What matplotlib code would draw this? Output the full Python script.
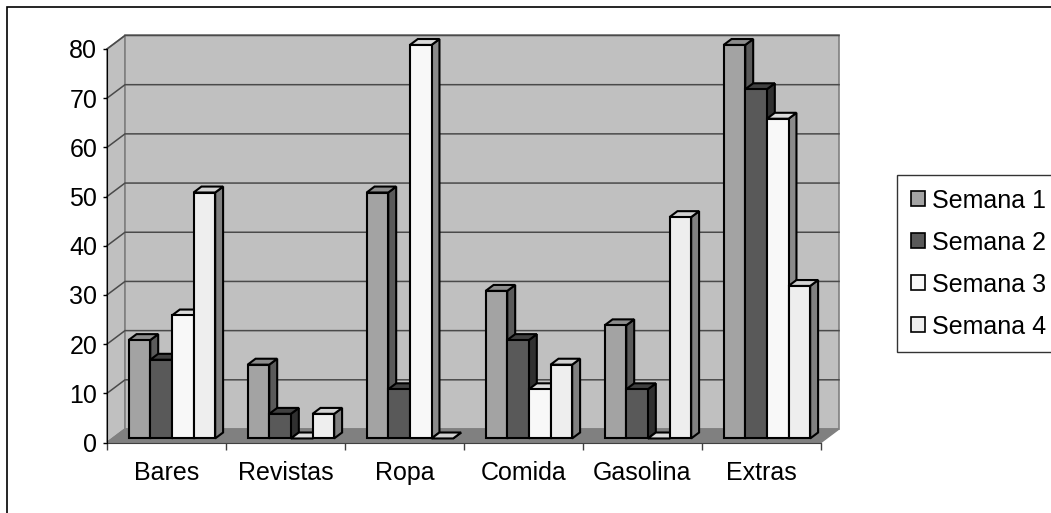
import matplotlib.pyplot as plt
from matplotlib.patches import Polygon, Rectangle, Patch

plt.rcParams["font.family"] = ["Liberation Sans", "DejaVu Sans"]

categories = ["Bares", "Revistas", "Ropa", "Comida", "Gasolina", "Extras"]
series_names = ["Semana 1", "Semana 2", "Semana 3", "Semana 4"]
semana1 = [20, 15, 50, 30, 23, 80]
semana2 = [16, 5, 10, 20, 10, 71]
semana3 = [25, 0, 80, 10, 0, 65]
semana4 = [50, 5, 0, 15, 45, 31]
y_ticks = [0, 10, 20, 30, 40, 50, 60, 70, 80]

# face colours per series: front, top, side
front_colors = ["#a3a3a3", "#595959", "#f8f8f8", "#eeeeee"]
top_colors = ["#8c8c8c", "#404040", "#dcdcdc", "#d2d2d2"]
side_colors = ["#5a5a5a", "#303030", "#8a8a8a", "#808080"]

W, H = 1051, 513
fig = plt.figure(figsize=(W / 100, H / 100), dpi=100)

# front plane of the 3d box, in pixels
x_left, x_right = 107, 821
y_zero, y_top = 442.5, 49
ax = fig.add_axes([x_left / W, 1 - y_zero / H,
                   (x_right - x_left) / W, (y_zero - y_top) / H])
n_cat = len(categories)
ymax = 80
ax.set_xlim(0, n_cat)
ax.set_ylim(0, ymax)

# depth offset of the back wall, expressed in data units
px_x = (x_right - x_left) / n_cat
px_y = (y_zero - y_top) / ymax
dx = 18 / px_x
dy = 13.5 / px_y

wall = "#c0c0c0"
edge_gray = "#808080"


def poly(pts, fc, ec, lw, z):
    ax.add_patch(Polygon(pts, closed=True, facecolor=fc, edgecolor=ec,
                         linewidth=lw, zorder=z, clip_on=False,
                         joinstyle="miter"))


# side wall, back wall and floor
poly([(0, 0), (0, ymax), (dx, ymax + dy), (dx, dy)], wall, edge_gray, 1.2, 1)
poly([(dx, dy), (n_cat + dx, dy), (n_cat + dx, ymax + dy), (dx, ymax + dy)],
     wall, edge_gray, 1.2, 1)
poly([(0, 0), (n_cat, 0), (n_cat + dx, dy), (dx, dy)], "#808080", "#808080", 1, 2)

for v in y_ticks[1:]:
    ax.plot([0, dx, n_cat + dx], [v, v + dy, v + dy], color="#4a4a4a",
            lw=1.1, zorder=1.5, clip_on=False, solid_joinstyle="miter")

# bars
all_series = [semana1, semana2, semana3, semana4]
n_ser = len(all_series)
bw = 1 / (n_ser + 1.5)
front_depth = 0.3
bar_depth = 0.44
z = 3
for i in range(n_cat):
    for j, vals in enumerate(all_series):
        v = vals[i]
        x0 = i + 0.75 * bw + j * bw + front_depth * dx
        y0 = front_depth * dy
        ox, oy = bar_depth * dx, bar_depth * dy
        poly([(x0 + bw, y0), (x0 + bw + ox, y0 + oy),
              (x0 + bw + ox, y0 + v + oy), (x0 + bw, y0 + v)],
             side_colors[j], "black", 1.5, z)
        poly([(x0, y0 + v), (x0 + bw, y0 + v), (x0 + bw + ox, y0 + v + oy),
              (x0 + ox, y0 + v + oy)], top_colors[j], "black", 1.5, z + 0.1)
        if v > 0:
            poly([(x0, y0), (x0 + bw, y0), (x0 + bw, y0 + v), (x0, y0 + v)],
                 front_colors[j], "black", 1.5, z + 0.2)
        z += 1

for s in ["top", "right"]:
    ax.spines[s].set_visible(False)
ax.spines["left"].set_color("black")
ax.spines["bottom"].set_color("#404040")
ax.spines["left"].set_zorder(50)
ax.spines["bottom"].set_zorder(2.5)
ax.patch.set_visible(False)

ax.set_yticks(y_ticks)
ax.tick_params(axis="y", direction="out", length=3, width=1, pad=4,
               labelsize=18, colors="black")
ax.set_xticks(range(n_cat + 1))
ax.set_xticklabels([])
ax.tick_params(axis="x", which="major", direction="out", length=5,
               width=1, color="#404040")
ax.set_xticks([i + 0.5 for i in range(n_cat)], minor=True)
ax.set_xticklabels(categories, minor=True)
ax.tick_params(axis="x", which="minor", length=0, pad=13, labelsize=18)

# legend
handles = [Patch(facecolor=front_colors[j], edgecolor="black", linewidth=1.2)
           for j in range(n_ser)]
leg = fig.legend(handles, series_names, loc="upper left",
                 bbox_to_anchor=(897 / W, 1 - 175 / H), fontsize=18,
                 frameon=True, fancybox=False, handlelength=0.55,
                 handleheight=0.55, handletextpad=0.3, labelspacing=0.72,
                 borderpad=0.55, borderaxespad=0)
leg.get_frame().set_edgecolor("black")
leg.get_frame().set_linewidth(1)

# chart area border
fig.patches.append(Rectangle((7 / W, -0.2), 2, 1.2 - 7 / H, fill=False,
                             edgecolor="black", linewidth=1.2,
                             transform=fig.transFigure, figure=fig))

fig.savefig("out.png", dpi=100)
